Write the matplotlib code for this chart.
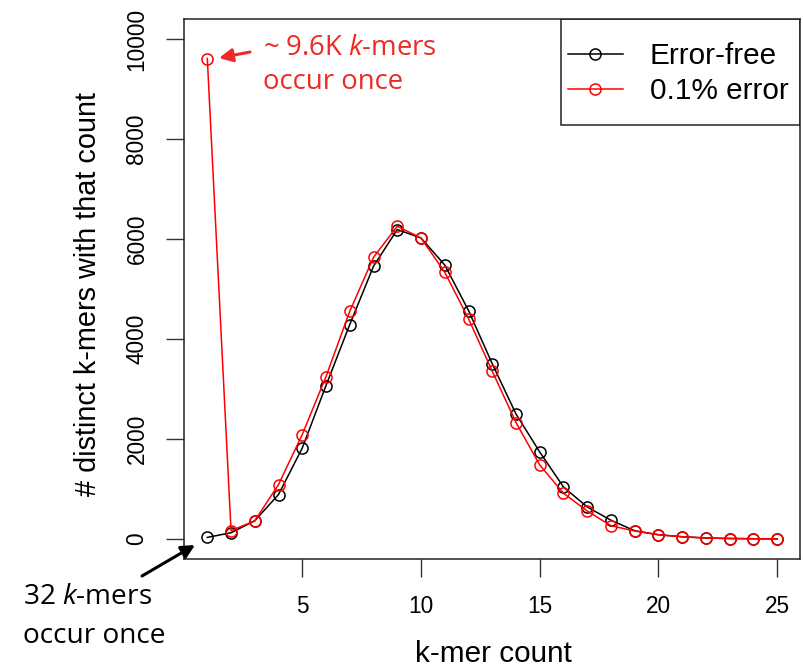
import matplotlib
matplotlib.use("Agg")
import matplotlib.pyplot as plt
from matplotlib.patches import Rectangle, FancyArrowPatch
import numpy as np

plt.rcParams['font.family'] = ['Liberation Sans', 'DejaVu Sans']
plt.rcParams['mathtext.fontset'] = 'custom'
plt.rcParams['mathtext.rm'] = 'Open Sans'
plt.rcParams['mathtext.it'] = 'Open Sans:italic'

# k-mer count histogram
kmer_count = np.arange(1, 26)
error_free = [32, 125, 365, 890, 1820, 3070, 4290, 5455, 6190, 6020, 5480, 4570,
              3505, 2500, 1740, 1040, 640, 375, 165, 85, 45, 20, 10, 5, 2]
error_01 = [9610, 165, 365, 1090, 2090, 3250, 4555, 5635, 6255, 6020, 5335, 4405,
            3355, 2330, 1480, 915, 560, 265, 160, 85, 45, 20, 10, 5, 2]

W, H = 804, 667
fig = plt.figure(figsize=(W / 100, H / 100), dpi=100)
ax = fig.add_axes([184.5 / W, 1 - 559 / H, (800 - 184.5) / W, (559 - 19) / H])

ax.plot(kmer_count, error_free, color='black', lw=1.1, marker='o', ms=8,
        mfc='none', mec='black', mew=1.1, label='Error-free')
ax.plot(kmer_count, error_01, color='red', lw=1.1, marker='o', ms=8,
        mfc='none', mec='red', mew=1.1, label='0.1% error')

ax.set_xlim(0.04, 25.96)
ax.set_ylim(-400, 10400)
ax.set_xticks([5, 10, 15, 20, 25])
ax.set_yticks([0, 2000, 4000, 6000, 8000, 10000])
ax.tick_params(axis='both', length=13, width=1.0, color='#333333', labelsize=16.3)
ax.tick_params(axis='x', pad=13)
ax.tick_params(axis='y', pad=13)
plt.setp(ax.get_yticklabels(), rotation=90, va='center')
for s in ax.spines.values():
    s.set_linewidth(1.1)
    s.set_color('#222222')

fig.text(88 / W, 1 - 294 / H, '# distinct k-mers with that count', rotation=90,
         ha='center', va='center', fontsize=20.8)
fig.text(493 / W, 1 - 662 / H, 'k-mer count', ha='center', va='baseline', fontsize=21.4)

# legend
leg = ax.legend(loc='upper left', bbox_to_anchor=((568 - 184.5) / 615.5, (559 - 42) / 540),
                frameon=False, borderpad=0, borderaxespad=0, handlelength=1.85,
                handletextpad=0.9, labelspacing=0.25, fontsize=21.4)
ax.add_patch(Rectangle(((561 - 184.5) / 615.5, (559 - 125) / 540),
                       (800 - 561) / 615.5, (125 - 19) / 540, transform=ax.transAxes,
                       fill=False, edgecolor='#222222', lw=1.1, zorder=5))

# annotations
red_txt = '#ee2a24'
fig.text(263 / W, 1 - 55 / H, r'~ 9.6K $\it{k}$-mers', color=red_txt,
         family='Open Sans', fontsize=19.8, va='baseline')
fig.text(263 / W, 1 - 89 / H, 'occur once', color=red_txt,
         family='Open Sans', fontsize=19.8, va='baseline')
fig.add_artist(FancyArrowPatch(
    (250 / W, 1 - 52 / H), (219 / W, 1 - 58 / H), transform=fig.transFigure,
    arrowstyle='-|>,head_length=8,head_width=4', color=red_txt, lw=2.2,
    shrinkA=0, shrinkB=0))

fig.text(23 / W, 1 - 604 / H, r'32 $\it{k}$-mers', color='black',
         family='Open Sans', fontsize=20.2, va='baseline')
fig.text(23 / W, 1 - 643 / H, 'occur once', color='black',
         family='Open Sans', fontsize=20.2, va='baseline')
fig.add_artist(FancyArrowPatch(
    (142 / W, 1 - 576 / H), (195 / W, 1 - 545 / H), transform=fig.transFigure,
    arrowstyle='-|>,head_length=8,head_width=4', color='black', lw=2.2,
    shrinkA=0, shrinkB=0))

fig.savefig('out.png', dpi=100)
